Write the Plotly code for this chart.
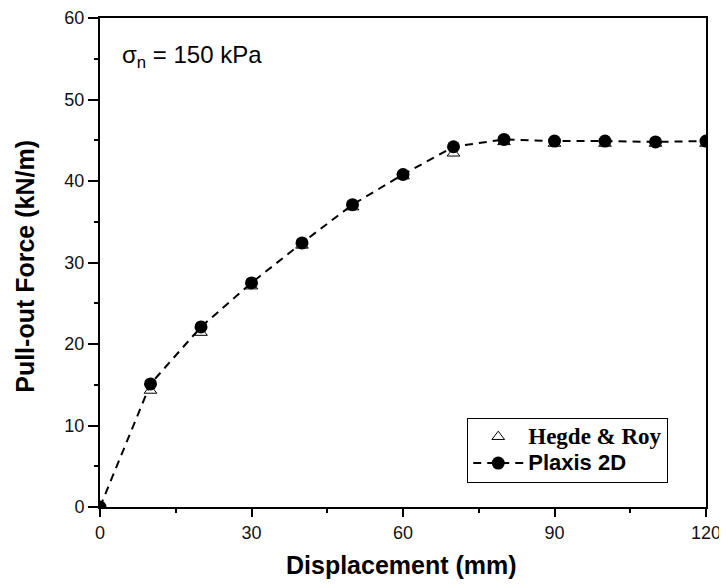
import plotly.graph_objects as go

displacement_plaxis = [0, 10, 20, 30, 40, 50, 60, 70, 80, 90, 100, 110, 120]
force_plaxis = [0, 15.1, 22.1, 27.5, 32.4, 37.1, 40.8, 44.2, 45.1, 44.9, 44.9, 44.8, 44.9]
displacement_hegde = [10, 20, 30, 40, 50, 60, 70, 80, 90, 100, 110, 120]
force_hegde = [14.3, 21.4, 27.1, 32.1, 36.8, 40.6, 43.4, 44.8, 44.6, 44.6, 44.6, 44.6]
x_ticks = [0, 30, 60, 90, 120]
y_ticks = [0, 10, 20, 30, 40, 50, 60]

SANS = "Liberation Sans, Arial, sans-serif"

fig = go.Figure()
fig.add_trace(go.Scatter(
    x=displacement_hegde, y=force_hegde, mode="markers",
    name="<span style='font-family:\"Liberation Serif\", \"Times New Roman\", serif; font-size:23px'><b>Hegde &amp; Roy</b></span>",
    marker=dict(symbol="triangle-up-open", size=11, color="black", line=dict(width=1, color="black")),
    cliponaxis=True,
))
fig.add_trace(go.Scatter(
    x=displacement_plaxis, y=force_plaxis, mode="lines+markers",
    name="<span style='font-size:22px'><b>Plaxis 2D</b></span>",
    line=dict(color="black", width=2, dash="8px,6px"),
    marker=dict(symbol="circle", size=13, color="black"),
    cliponaxis=True,
))

axis_common = dict(
    showline=True, linecolor="black", linewidth=2, mirror=True,
    ticks="outside", tickwidth=2, tickcolor="black",
    showgrid=False, zeroline=False, automargin=False,
    tickfont=dict(family=SANS, size=18, color="#111"),
)

fig.update_xaxes(
    range=[0, 120], tickvals=x_ticks, ticklen=8,
    minor=dict(ticks="outside", ticklen=4, tickwidth=2, tickcolor="black", dtick=15, tick0=0),
    **axis_common,
)
fig.update_yaxes(
    range=[0, 60], tickvals=y_ticks, ticklen=10,
    minor=dict(ticks="outside", ticklen=4, tickwidth=2, tickcolor="black", dtick=5, tick0=0),
    **axis_common,
)

fig.add_annotation(
    x=0.033, y=0.922, xref="paper", yref="paper", xanchor="left", yanchor="middle",
    text="σ<sub>n</sub> = 150 kPa", showarrow=False,
    font=dict(family=SANS, size=24, color="black"),
)
fig.add_annotation(
    x=0.498, y=-0.1186, xref="paper", yref="paper", xanchor="center", yanchor="middle",
    text="<b>Displacement (mm)</b>", showarrow=False,
    font=dict(family=SANS, size=25, color="black"),
)
fig.add_annotation(
    x=-0.124, y=0.493, xref="paper", yref="paper", xanchor="center", yanchor="middle",
    text="<b>Pull-out Force (kN/m)</b>", showarrow=False, textangle=-90,
    font=dict(family=SANS, size=25, color="black"),
)

# page body has an 8px margin: figure is placed at (8, 8)
fig.update_layout(
    width=719, height=580,
    margin=dict(l=92, r=21, t=10, b=81, autoexpand=False),
    plot_bgcolor="white", paper_bgcolor="white",
    showlegend=True,
    legend=dict(
        x=0.606, y=0.183, xanchor="left", yanchor="top",
        bgcolor="white", bordercolor="black", borderwidth=1,
        font=dict(family=SANS, size=18, color="black"),
        tracegroupgap=0, itemwidth=50,
    ),
)

fig.write_html("out.html")
